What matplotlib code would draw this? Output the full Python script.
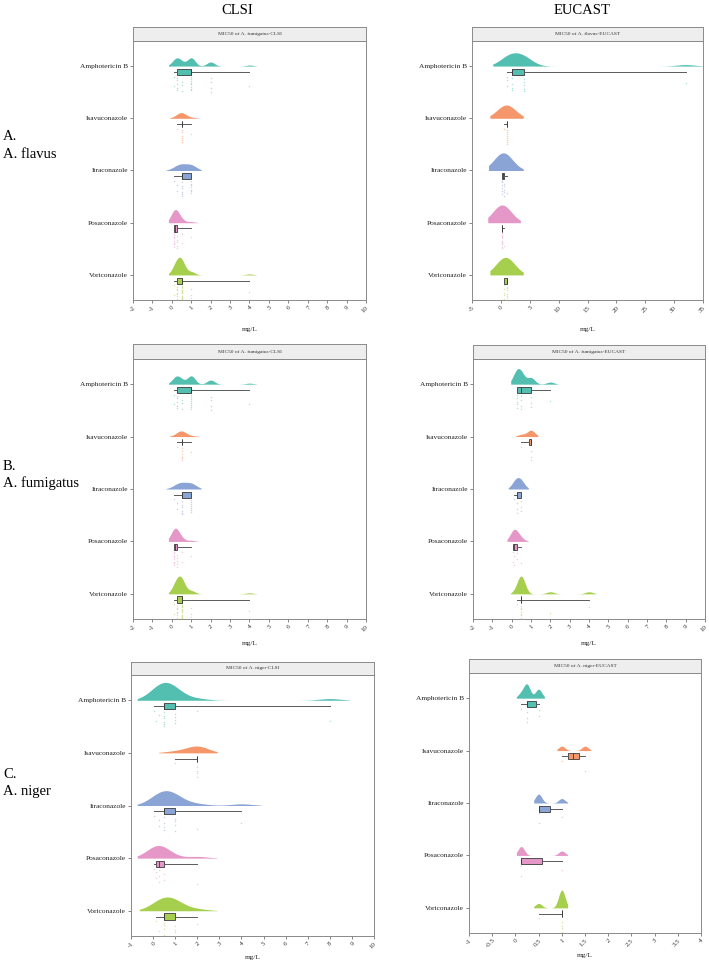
import numpy as np
import matplotlib
matplotlib.use('Agg')
import matplotlib.pyplot as plt

plt.rcParams['font.family'] = ['Liberation Serif', 'DejaVu Serif']

drugs = ['Amphotericin B', 'Isavuconazole', 'Itraconazole', 'Posaconazole', 'Voriconazole']
colors = ['#52bfb0', '#f5976a', '#8aa4d6', '#e597c8', '#a5cf4d']

# MIC values (mg/L) per isolate, one list per drug, in the order of `drugs`
flavus_clsi = [
    [0.125, 0.125, 0.25, 0.25, 0.25, 0.25, 0.25, 0.5, 0.5, 0.5, 1, 1, 1, 1, 1, 1, 1, 1, 2, 2, 2, 2, 4],
    [0.25, 0.5, 0.5, 0.5, 0.5, 0.5, 0.5, 1],
    [0.125, 0.25, 0.25, 0.5, 0.5, 0.5, 0.5, 0.5, 0.5, 1, 1, 1, 1, 1, 1, 1],
    [0.125, 0.125, 0.125, 0.125, 0.125, 0.125, 0.125, 0.125, 0.25, 0.25, 0.25, 0.25, 0.25, 0.5, 0.5, 1],
    [0.125, 0.125, 0.25, 0.25, 0.25, 0.25, 0.25, 0.25, 0.25, 0.25,
     0.5, 0.5, 0.5, 0.5, 0.5, 0.5, 0.5, 0.5, 0.5, 0.5, 0.5, 0.5, 1, 1, 1, 4],
]
flavus_eucast = [
    [1, 1, 1, 2, 2, 2, 2, 4, 4, 4, 4, 4, 32],
    [0.5, 1, 1, 1, 1, 1, 1, 1, 1],
    [0.25, 0.25, 0.25, 0.25, 0.25, 0.25, 0.5, 0.5, 0.5, 0.5, 0.5, 1],
    [0.125, 0.125, 0.125, 0.125, 0.125, 0.125, 0.25, 0.25, 0.25, 0.25, 0.25, 0.5],
    [0.5, 0.5, 0.5, 0.5, 0.5, 1, 1, 1, 1, 1, 1, 1],
]
# the published figure repeats the same CLSI panel in rows A and B
fumigatus_clsi = flavus_clsi
fumigatus_eucast = [
    [0.25, 0.25, 0.25, 0.25, 0.25, 0.5, 0.5, 0.5, 0.5, 1, 1, 1, 2],
    [0.5, 1, 1, 1],
    [0.125, 0.25, 0.25, 0.25, 0.5, 0.5, 0.5],
    [0.06, 0.06, 0.125, 0.125, 0.25, 0.25, 0.5],
    [0.25, 0.5, 0.5, 0.5, 0.5, 0.5, 0.5, 0.5, 0.5, 2, 4],
]
niger_clsi = [
    [0.03, 0.125, 0.25, 0.5, 0.5, 0.5, 0.5, 0.5, 0.5, 1, 1, 1, 1, 2, 8],
    [1, 2, 2, 2, 2],
    [0.03, 0.25, 0.25, 0.5, 0.5, 0.5, 0.5, 1, 1, 1, 1, 2, 4],
    [0.03, 0.125, 0.125, 0.25, 0.25, 0.25, 0.5, 0.5, 2],
    [0.125, 0.25, 0.5, 0.5, 0.5, 0.5, 1, 1, 1, 1, 2],
]
niger_eucast = [
    [0.125, 0.25, 0.25, 0.25, 0.5, 0.5],
    [1, 1.5],
    [0.5, 0.5, 1],
    [0.125, 0.125, 1],
    [0.5, 1, 1, 1, 1],
]

strip_titles = ['MIC50 of A. fumigatus-CLSI', 'MIC50 of A. flavus-EUCAST',
                'MIC50 of A. fumigatus-CLSI', 'MIC50 of A. fumigatus-EUCAST',
                'MIC50 of A. niger-CLSI', 'MIC50 of A. niger-EUCAST']
xticks_clsi = list(range(-2, 11))
xticks_flavus_eucast = list(range(-5, 36, 5))
xticks_niger_clsi = list(range(-1, 11))
xticks_niger_eucast = [-1, -0.5, 0, 0.5, 1, 1.5, 2, 2.5, 3, 3.5, 4]

W, H = 709, 966
fig = plt.figure(figsize=(W / 100, H / 100), dpi=100)

# kde bandwidth per drug for each panel
bw_clsi = [0.2, 0.24, 0.28, 0.2, 0.2]
bw_fl_eu = [1.6] * 5
bw_fu_eu = [0.2] * 5
bw_ni_cl = [0.5] * 5
bw_ni_eu = [0.07] * 5

# (data, title, ticks, bandwidths,
#  [left, right, strip top, strip bottom, axes bottom, x-label y] in px)
panels = [
    (flavus_clsi, strip_titles[0], xticks_clsi, bw_clsi, [133, 366, 27, 41, 300, 330]),
    (flavus_eucast, strip_titles[1], xticks_flavus_eucast, bw_fl_eu, [472, 703, 27, 41, 300, 330]),
    (fumigatus_clsi, strip_titles[2], xticks_clsi, bw_clsi, [133, 366, 344, 359, 619, 644]),
    (fumigatus_eucast, strip_titles[3], xticks_clsi, bw_fu_eu, [473, 705, 345, 359, 619, 644]),
    (niger_clsi, strip_titles[4], xticks_niger_clsi, bw_ni_cl, [131, 374, 662, 675, 936, 958]),
    (niger_eucast, strip_titles[5], xticks_niger_eucast, bw_ni_eu, [469, 701, 659, 673, 933, 955]),
]


def kernel_sum(vals, grid, bw):
    d = (grid[:, None] - np.asarray(vals, float)[None, :]) / bw
    return np.exp(-0.5 * d ** 2).sum(axis=1) / (bw * np.sqrt(2 * np.pi))


for data, title, ticks, bws, (l, r, st, sb, bt, ly) in panels:
    ax = fig.add_axes([l / W, 1 - bt / H, (r - l) / W, (bt - sb) / H])
    sax = fig.add_axes([l / W, 1 - sb / H, (r - l) / W, (sb - st) / H])
    sax.set_facecolor('#eeeeee')
    sax.set_xticks([])
    sax.set_yticks([])
    for s in sax.spines.values():
        s.set_color('#8a8a8a')
        s.set_linewidth(0.7)
    sax.text(0.5, 0.5, title, ha='center', va='center', fontsize=3.9, color='#333333',
             transform=sax.transAxes)

    ypos = [4, 3, 2, 1, 0]
    curves = []
    for vals, bw in zip(data, bws):
        grid = np.linspace(min(vals) - 1.5 * bw, max(vals) + 1.8 * bw, 400)
        curves.append((grid, kernel_sum(vals, grid, bw)))
    hmax = max(c[1].max() for c in curves)

    for i, vals in enumerate(data):
        y0 = ypos[i]
        grid, dens = curves[i]
        ax.fill_between(grid, y0, y0 + 0.34 * dens / hmax, color=colors[i], lw=0, zorder=2)
        bp = ax.boxplot([vals], positions=[y0 - 0.11], widths=0.12, orientation='horizontal',
                        whis=(0, 100), showfliers=False, showcaps=False, patch_artist=True,
                        manage_ticks=False)
        for b in bp['boxes']:
            b.set_facecolor(colors[i])
            b.set_edgecolor('#3a3a3a')
            b.set_linewidth(0.6)
        for w in bp['whiskers']:
            w.set_color('#5a5a5a')
            w.set_linewidth(0.7)
        for m in bp['medians']:
            m.set_color('#3a3a3a')
            m.set_linewidth(0.6)
        jit = np.array([(k * 0.618) % 1 for k in range(len(vals))])
        ax.scatter(vals, y0 - 0.2 - 0.3 * jit, s=1.2, color=colors[i], alpha=0.45, lw=0, zorder=3)

    ax.set_ylim(-0.48, 4.48)
    ax.set_xlim(ticks[0], ticks[-1])
    ax.set_yticks(ypos)
    ax.set_yticklabels(drugs, fontsize=5.3, color='#222222')
    ax.set_xticks(ticks)
    ax.set_xticklabels(['%g' % t for t in ticks], fontsize=5, rotation=45, ha='right',
                       rotation_mode='anchor', color='#333333')
    ax.tick_params(length=2, width=0.5, color='#555555', pad=1.5)
    for s in ax.spines.values():
        s.set_color('#8a8a8a')
        s.set_linewidth(0.7)

    fig.text((l + r) / 2 / W, 1 - ly / H, 'mg/L', ha='center', va='center', fontsize=5.2,
             color='#222222')

fig.text(237 / W, 1 - 11 / H, 'CLSI', ha='center', va='center', fontsize=10.5)
fig.text(582 / W, 1 - 11 / H, 'EUCAST', ha='center', va='center', fontsize=10.5)

row_labels = [('A.', 'A. flavus', 137), ('B.', 'A. fumigatus', 466), ('C.', 'A. niger', 775)]
for a, b, yc in row_labels:
    fig.text(3 / W, 1 - yc / H, a, ha='left', va='center', fontsize=10.5)
    fig.text(3 / W, 1 - (yc + 17) / H, b, ha='left', va='center', fontsize=10.5)

fig.savefig('out.png', dpi=100, facecolor='white')
